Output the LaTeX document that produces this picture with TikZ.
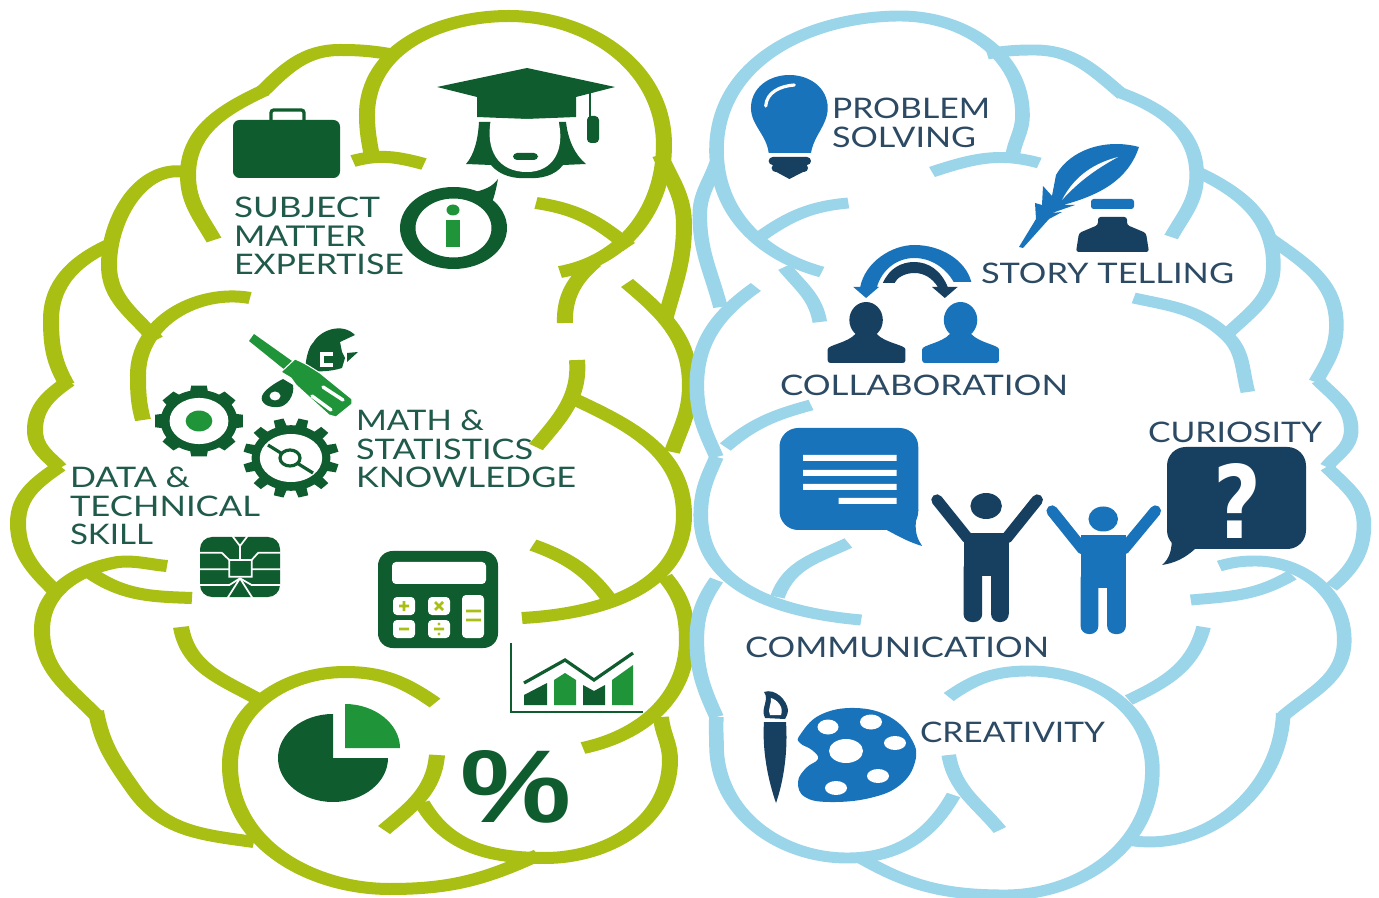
\documentclass[tikz,border=0pt]{standalone}
\usepackage{graphicx}
\usepackage{fontspec}
\setmainfont{Lato}
\newfontfamily\boldsym{Liberation Sans}
\newfontfamily\boldq{DejaVu Sans}
\definecolor{lime}{HTML}{A9BF14}
\definecolor{sky}{HTML}{9AD5EA}
\definecolor{dkg}{HTML}{0F5C2E}
\definecolor{mdg}{HTML}{1F9438}
\definecolor{navy}{HTML}{173F5F}
\definecolor{blu}{HTML}{1873BB}
\definecolor{tg}{HTML}{1F5A4A}
\definecolor{tb}{HTML}{2C4A63}
\newlength\pxu \setlength\pxu{.75pt}
\newcommand{\fit}[2]{\resizebox{#1\pxu}{20.5\pxu}{#2}}
\newcommand{\lobe}[1]{\draw[brainline] #1;}
\tikzset{
 brainline/.style={line width=9pt,line cap=butt,line join=round},
 lab/.style={anchor=north west,inner sep=0pt,outer sep=0pt,align=left,font=\fontsize{20}{21.4pt}\selectfont},
 pxscale/.style={x=.75pt,y=-.75pt}
}
\begin{document}
\begin{tikzpicture}[pxscale]
\useasboundingbox (0,0) rectangle (1379,898);
\fill[white] (0,0) rectangle (1379,898);
% ---- green lobes (canvas stretched so strokes thicken sideways)
\begin{scope}[transform canvas={xscale=1.3333},xscale=.75,brainline/.append style={draw=lime,line width=9pt}]
\lobe{(372,157) to[out=100,in=270] (367,115) to[out=90,in=180] (509,16) to[out=0,in=90] (664,145) to[out=270,in=10] (560,272)}
\lobe{(353,161) to[out=15,in=165] (424,164)}
\lobe{(395,55) to[out=170,in=0] (340,50) to[out=180,in=45] (262,92)}
\lobe{(265,90) to[out=205,in=90] (188,175) to[out=270,in=120] (214,240)}
\lobe{(190,173) to[out=165,in=90] (109,265) to[out=270,in=130] (156,340)}
\lobe{(109,245) to[out=205,in=90] (51,320) to[out=270,in=120] (67,385)}
\lobe{(69,381) to[out=215,in=90] (35,430) to[out=270,in=135] (60,468)}
\lobe{(60,466) to[out=215,in=90] (18,523) to[out=270,in=135] (60,596)}
\lobe{(167,566) to[out=175,in=5] (118,562) to[out=190,in=90] (42,630) to[out=270,in=135] (96,715)}
\lobe{(96,711) to[out=280,in=125] (134,790) to[out=305,in=172] (254,842)}
\lobe{(89,572) to[out=-35,in=178] (192,598)}
\lobe{(181,627) to[out=280,in=150] (263,702)}
\lobe{(435,703) to[out=145,in=0] (345,672) to[out=180,in=90] (230,765) to[out=270,in=180] (390,889) to[out=0,in=205] (538,855)}
\lobe{(422,803) to[out=300,in=180] (545,858) to[out=0,in=270] (670,760) to[out=90,in=275] (661,717)}
\lobe{(437,755) to[out=265,in=40] (384,830)}
\lobe{(583,748) to[out=12,in=270] (687,640) to[out=90,in=310] (665,577)}
\lobe{(576,400) to[out=-25,in=90] (684,515) to[out=270,in=3] (522,618)}
\lobe{(627,283) to[out=-40,in=90] (690,385) to[out=270,in=70] (672,452)}
\lobe{(533,545) to[out=-20,in=125] (612,603)}
\lobe{(660,155) to[out=295,in=90] (684,225) to[out=270,in=75] (665,320)}
\lobe{(536,203) to[out=-8,in=140] (629,247)}
\lobe{(565,323) to[out=92,in=220] (595,262)}
\lobe{(577,360) to[out=275,in=50] (536,447)}
\lobe{(250,298) to[out=170,in=90] (138,375) to[out=270,in=105] (143,420)}
\end{scope}
% ---- blue lobes
\begin{scope}[transform canvas={xscale=1.3333},xscale=.75,xshift=11\pxu,xscale=.984,brainline/.append style={draw=sky,line width=8.2pt}]
\lobe{(1018,155) to[out=80,in=270] (1028,115) to[out=90,in=0] (904,16) to[out=180,in=90] (717,150) to[out=270,in=165] (824,272)}
\lobe{(936,172) to[out=18,in=165] (1045,163)}
\lobe{(992,54) to[out=10,in=180] (1040,50) to[out=0,in=140] (1130,95)}
\lobe{(1128,93) to[out=-20,in=90] (1205,175) to[out=270,in=60] (1179,237)}
\lobe{(1206,172) to[out=-25,in=90] (1283,265) to[out=270,in=45] (1232,338)}
\lobe{(1279,238) to[out=-35,in=90] (1347,325) to[out=270,in=60] (1326,382)}
\lobe{(1328,380) to[out=-45,in=90] (1362,430) to[out=270,in=50] (1337,467)}
\lobe{(1337,467) to[out=-45,in=90] (1375,525) to[out=270,in=40] (1342,587)}
\lobe{(1228,566) to[out=15,in=180] (1265,561) to[out=0,in=90] (1355,640) to[out=270,in=40] (1293,716)}
\lobe{(1293,713) to[out=268,in=350] (1135,840)}
\lobe{(1199,600) to[out=5,in=210] (1302,575)}
\lobe{(1212,627) to[out=255,in=25] (1136,700)}
\lobe{(953,697) to[out=35,in=180] (1035,671) to[out=0,in=90] (1160,770) to[out=270,in=0] (1010,895) to[out=180,in=-30] (860,856)}
\lobe{(958,795) to[out=240,in=0] (850,858) to[out=180,in=270] (717,745) to[out=90,in=265] (717,717)}
\lobe{(953,755) to[out=280,in=130] (1005,830)}
\lobe{(717,717) to[out=115,in=270] (697,640) to[out=90,in=235] (717,580)}
\lobe{(757,287) to[out=215,in=90] (697,385) to[out=270,in=115] (717,457)}
\lobe{(717,457) to[out=245,in=90] (701,515) to[out=270,in=175] (864,620)}
\lobe{(851,543) to[out=205,in=70] (779,597)}
\lobe{(813,405) to[out=195,in=40] (726,447)}
\lobe{(717,163) to[out=250,in=90] (700,215) to[out=270,in=105] (721,307)}
\lobe{(851,203) to[out=185,in=35] (761,237)}
\lobe{(786,267) to[out=310,in=100] (822,322)}
\lobe{(1141,298) to[out=-12,in=138] (1235,335) to[out=-42,in=105] (1257,392)}
\end{scope}
% ---- briefcase
\fill[dkg,rounded corners=5pt] (233,120) rectangle (340,178);
\draw[dkg,line width=2.4pt,rounded corners=2pt] (271,120)--(271,110)--(304,110)--(304,120);
% ---- graduate
\fill[dkg] (437,87)--(527,68)--(615,87)--(576,97)--(576,117)--(527,119)--(477,117)--(477,97)--cycle;
\draw[dkg,line width=1.6pt] (590,92)--(590,120);
\fill[dkg,rounded corners=3pt] (587,116) rectangle (599,143);
\fill[dkg] (479,122) .. controls (478,140) and (474,155) .. (466,164) -- (491,165) .. controls (500,176) and (515,179) .. (527,178) .. controls (540,179) and (555,176) .. (563,165) -- (586,164) .. controls (575,155) and (568,140) .. (566,122) -- cycle;
\fill[white] (491,119) .. controls (485,150) and (498,172) .. (527,172) .. controls (553,172) and (566,150) .. (558,119) -- cycle;
\fill[dkg,rounded corners=3pt] (513,153) rectangle (538,160);
% ---- info
\fill[dkg,even odd rule] (453.5,228) ellipse[x radius=53.5,y radius=41] (453.5,228) ellipse[x radius=38,y radius=29.5];
\fill[dkg] (470,193) .. controls (485,190) and (492,187) .. (498,179) .. controls (496,190) and (494,198) .. (490,208) -- cycle;
\fill[mdg] (453,210) ellipse[x radius=6.5,y radius=5.5];
\fill[mdg] (446,220) rectangle (460,247);
% ---- tools
\fill[dkg] (305,370) .. controls (306,355) and (310,345) .. (313,343) .. controls (320,330) and (342,322) .. (355,335) -- (340,342) -- (342,352) -- (345,358) -- (342,368) .. controls (330,372) and (315,372) .. (305,370) -- cycle;
\fill[dkg] (347,353) -- (358,352) -- (347,362) -- cycle;
\draw[white,line width=2.4pt] (333,354)--(322,354)--(322,365)--(333,365);
\fill[dkg] (283,379) -- (293,385) .. controls (295,395) and (287,407) .. (278,407) .. controls (268,408) and (260,403) .. (262,396) .. controls (264,390) and (275,383) .. (283,379) -- cycle;
\fill[white] (275,396) ellipse[x radius=5.5,y radius=4.5];
\fill[mdg] (249,341) -- (254,334) -- (292,361) -- (285,370) -- cycle;
\fill[mdg,draw=white,line width=.8pt] (281,372) -- (295,359) .. controls (305,363) and (312,368) .. (320,373) -- (352,399) -- (352,404) -- (336,417) -- (329,415) -- (296,385) -- (291,378) -- cycle;
\draw[white,line width=2.6pt,line cap=round] (323,387)--(343,400) (312,396)--(331,410);
% ---- gears
\begin{scope}[shift={(199,421)},x=33.4pt,y=27pt]
\fill[dkg] (0,0) ellipse[x radius=.86,y radius=.86];
\foreach \a in {0,45,...,315}{\fill[dkg] (\a-15:.8)--(\a-10:1)--(\a+10:1)--(\a+15:.8)--cycle;}
\fill[white] (0,0) ellipse[x radius=.66,y radius=.64];
\fill[mdg] (0,0) ellipse[x radius=.3,y radius=.29];
\end{scope}
\begin{scope}[shift={(291,458)},x=36pt,y=30pt]
\fill[dkg] (0,0) ellipse[x radius=.82,y radius=.82];
\foreach \a in {15,45,...,345}{\fill[dkg] (\a-9:.78)--(\a-6:1)--(\a+6:1)--(\a+9:.78)--cycle;}
\fill[white] (0,0) ellipse[x radius=.65,y radius=.6];
\end{scope}
\draw[dkg,line width=2.4pt] (268,445)--(313,473);
\fill[white,draw=dkg,line width=2.4pt] (290,458) ellipse[x radius=10,y radius=8];
% ---- chip
\fill[dkg,rounded corners=9pt] (200,537) rectangle (280,597);
\begin{scope}[shift={(190,530)},x=.25pt,y=-.25pt,white,line width=1.3pt]
\draw (125,15)--(150,48)--(175,15) (150,48)--(150,90)--(118,90)--(118,140)--(185,140)--(185,90)--(150,90);
\draw (28,68)--(95,68)--(118,90) (28,118)--(118,118) (28,165)--(118,165)--(150,145)--(185,165)--(272,165);
\draw (272,68)--(205,68)--(185,90) (272,118)--(185,118) (150,145)--(112,205) (150,145)--(188,205);
\end{scope}
% ---- calculator
\fill[dkg,rounded corners=11pt] (378,551) rectangle (498,648);
\fill[white,rounded corners=3pt] (392,562) rectangle (486,584);
\foreach \bx/\by in {393/597,428/597,393/620,428/620}{\fill[white,rounded corners=3pt] (\bx,\by) rectangle ++(22,18);}
\fill[white,rounded corners=3pt] (462,595) rectangle (484,638);
\draw[lime,line width=2pt] (399,606)--(409,606) (404,601)--(404,611) (435,602)--(443,610) (443,602)--(435,610) (399,629)--(409,629) (434,629)--(444,629) (466,611)--(481,611) (466,620)--(481,620);
\fill[lime] (439,624) circle[radius=1.6] (439,634) circle[radius=1.6];
% ---- chart
\draw[dkg,line width=2.2pt] (511,643)--(511,712)--(643,712);
\draw[dkg,line width=2.4pt] (524,683)--(565,660)--(594,680)--(633,653);
\fill[dkg] (524,705)--(524,695)--(547,683)--(547,705)--cycle;
\fill[mdg] (554,705)--(554,680)--(565,673)--(576,680)--(576,705)--cycle;
\fill[dkg] (583,705)--(583,685)--(594,691)--(605,685)--(605,705)--cycle;
\fill[mdg] (612,705)--(612,680)--(633,665)--(633,705)--cycle;
% ---- pie
\fill[dkg] (333,758) -- (333,714) arc[start angle=90,end angle=360,x radius=55,y radius=-44] -- cycle;
\fill[mdg] (345,748) -- (345,704) .. controls (375,704) and (400,724) .. (400,748) -- cycle;
% ---- percent
\node[inner sep=0pt,anchor=north west,text=dkg] (pct) at (460,750) {\resizebox{111\pxu}{72\pxu}{\boldsym\bfseries\%}};
% ---- bulb
\begin{scope}[xshift=11\pxu,xscale=.984]
\fill[blu] (770,153) .. controls (768,135) and (752,125) .. (752,108) .. controls (752,88) and (770,75) .. (791,75) .. controls (812,75) and (830,88) .. (830,108) .. controls (830,125) and (816,135) .. (813,153) -- cycle;
\draw[white,line width=2.4pt,line cap=round] (767,106) .. controls (768,92) and (782,86) .. (796,85);
\fill[navy,rounded corners=3pt] (770,157) rectangle (813,165);
\fill[navy,rounded corners=3pt] (773,164) rectangle (810,172);
\fill[navy] (776,171)--(807,171)--(791,179)--cycle;
% ---- collaboration arrows
\fill[blu] (869,298)--(856,287)--(863,287) .. controls (868,262) and (895,245) .. (918,245) .. controls (945,245) and (970,260) .. (976,282) -- (958,282) .. controls (950,268) and (935,258) .. (918,258) .. controls (900,258) and (885,270) .. (880,287) -- (882,287) -- cycle;
\fill[navy] (886,283) .. controls (893,268) and (905,262) .. (918,262) .. controls (932,262) and (945,270) .. (952,287) -- (962,287) -- (949,298) -- (936,287) -- (942,287) .. controls (936,278) and (928,273) .. (918,273) .. controls (908,273) and (900,278) .. (898,283) -- cycle;
% ---- two heads
\fill[navy] (869,320) ellipse[x radius=17,y radius=18];
\fill[navy,rounded corners=2pt] (830,363) -- (830,352) .. controls (830,345) and (850,343) .. (860,332) -- (878,332) .. controls (888,343) and (909,345) .. (909,352) -- (909,363) -- cycle;
\fill[blu] (965,320) ellipse[x radius=17,y radius=18];
\fill[blu,rounded corners=2pt] (926,363) -- (926,352) .. controls (926,345) and (946,343) .. (956,332) -- (974,332) .. controls (984,343) and (1004,345) .. (1004,352) -- (1004,363) -- cycle;
% ---- message bubble
\fill[blu,rounded corners=14pt] (781,428) rectangle (922,530);
\fill[blu] (890,525) -- (890,530) .. controls (905,538) and (915,543) .. (926,546) .. controls (918,535) and (918,525) .. (922,510) -- cycle;
\fill[white] (805,455) rectangle (900,461) (805,470) rectangle (900,476) (805,484) rectangle (900,490) (841,498) rectangle (900,504);
% ---- figures
\draw[navy,line width=8.5pt,line cap=round] (941,500)--(972,538) (1043,500)--(1012,538);
\fill[navy] (991,506) ellipse[x radius=16,y radius=13];
\fill[navy] (968,533) rectangle (1014,576);
\fill[navy,rounded corners=6pt] (968,560) -- (968,622) -- (987,622) -- (987,560) -- cycle (996,560) -- (996,622) -- (1014,622) -- (1014,560) -- cycle;
\draw[blu,line width=8.5pt,line cap=round] (1058,511)--(1089,549) (1163,511)--(1131,549);
\fill[blu] (1110,519) ellipse[x radius=15,y radius=12.5];
\fill[blu] (1087,535) rectangle (1133,588);
\fill[blu,rounded corners=6pt] (1087,570) -- (1087,634) -- (1105,634) -- (1105,570) -- cycle (1114,570) -- (1114,634) -- (1133,634) -- (1133,570) -- cycle;
\end{scope}
% ---- question bubble
\fill[navy,rounded corners=14pt] (1167,447) rectangle (1306,549);
\fill[navy] (1172,535) .. controls (1172,550) and (1170,558) .. (1162,565) .. controls (1175,563) and (1185,558) .. (1195,549) -- cycle;
\node[inner sep=0pt,anchor=north west,text=white] (qm) at (1213,463) {\resizebox{48\pxu}{75\pxu}{\boldq\bfseries ?}};
% ---- feather and ink
\fill[blu] (1139,147) .. controls (1105,138) and (1070,150) .. (1056,175) -- (1052,196) -- (1043,186) -- (1042,205) -- (1035,203) -- (1036,219) -- (1019,247) -- (1023,248) -- (1049,219) -- (1062,212) -- (1052,213) -- (1075,205) -- (1063,205) .. controls (1100,195) and (1128,180) .. (1139,147) -- cycle;
\fill[white] (1062,200) .. controls (1075,175) and (1095,163) .. (1118,157) .. controls (1098,168) and (1080,180) .. (1062,200) -- cycle;
\fill[blu,rounded corners=2pt] (1091,199) rectangle (1134,209);
\fill[navy,rounded corners=2pt] (1098,217)--(1127,217)--(1127,225)--(1146,233)--(1149,252)--(1076,252)--(1079,233)--(1098,225)--cycle;
% ---- palette and brush
\fill[blu] plot[smooth cycle,tension=.7] coordinates {(800,735)(820,715)(855,708)(890,717)(912,740)(915,762)(900,785)(870,798)(830,802)(805,797)(798,782)(806,768)(818,759)(812,750)(800,743)};
\foreach \hx/\hy/\rx/\ry in {828/727/10.5/7.5,871/722/11/7.5,895/743/11/7,846/751/17/12,878/776/11/7,836/788/11/7}{\fill[white] (\hx,\hy) ellipse[x radius=\rx,y radius=\ry];}
\fill[navy] (764,722)--(786,722) .. controls (788,750) and (784,780) .. (776,803) .. controls (768,780) and (762,750) .. (764,722) -- cycle;
\fill[navy] (765,718) .. controls (760,708) and (770,700) .. (764,692) .. controls (775,688) and (787,700) .. (788,710) .. controls (788,714) and (786,717) .. (785,719) -- cycle;
\fill[white] (770,715) .. controls (767,710) and (772,703) .. (771,698) .. controls (778,700) and (784,708) .. (781,715) -- cycle;
% ---- labels
\node[lab,text=tg] (sme) at (234,197) {\fit{146}{SUBJECT}\\\fit{132}{MATTER}\\\fit{170}{EXPERTISE}};
\node[lab,text=tg] (msk) at (356,410) {\fit{128}{MATH \&}\\\fit{177}{STATISTICS}\\\fit{220}{KNOWLEDGE}};
\node[lab,text=tg] (dts) at (70,467) {\fit{120}{DATA \&}\\\fit{190}{TECHNICAL}\\\fit{83}{SKILL}};
\node[lab,text=tb] (ps) at (832,98) {\fit{158}{PROBLEM}\\\fit{144}{SOLVING}};
\node[lab,text=tb] (st) at (981,263) {\fit{253}{STORY TELLING}};
\node[lab,text=tb] (col) at (780,375) {\fit{288}{COLLABORATION}};
\node[lab,text=tb] (cur) at (1148,422) {\fit{174}{CURIOSITY}};
\node[lab,text=tb] (com) at (745,637) {\fit{304}{COMMUNICATION}};
\node[lab,text=tb] (cre) at (920,722) {\fit{185}{CREATIVITY}};
\end{tikzpicture}
\end{document}
